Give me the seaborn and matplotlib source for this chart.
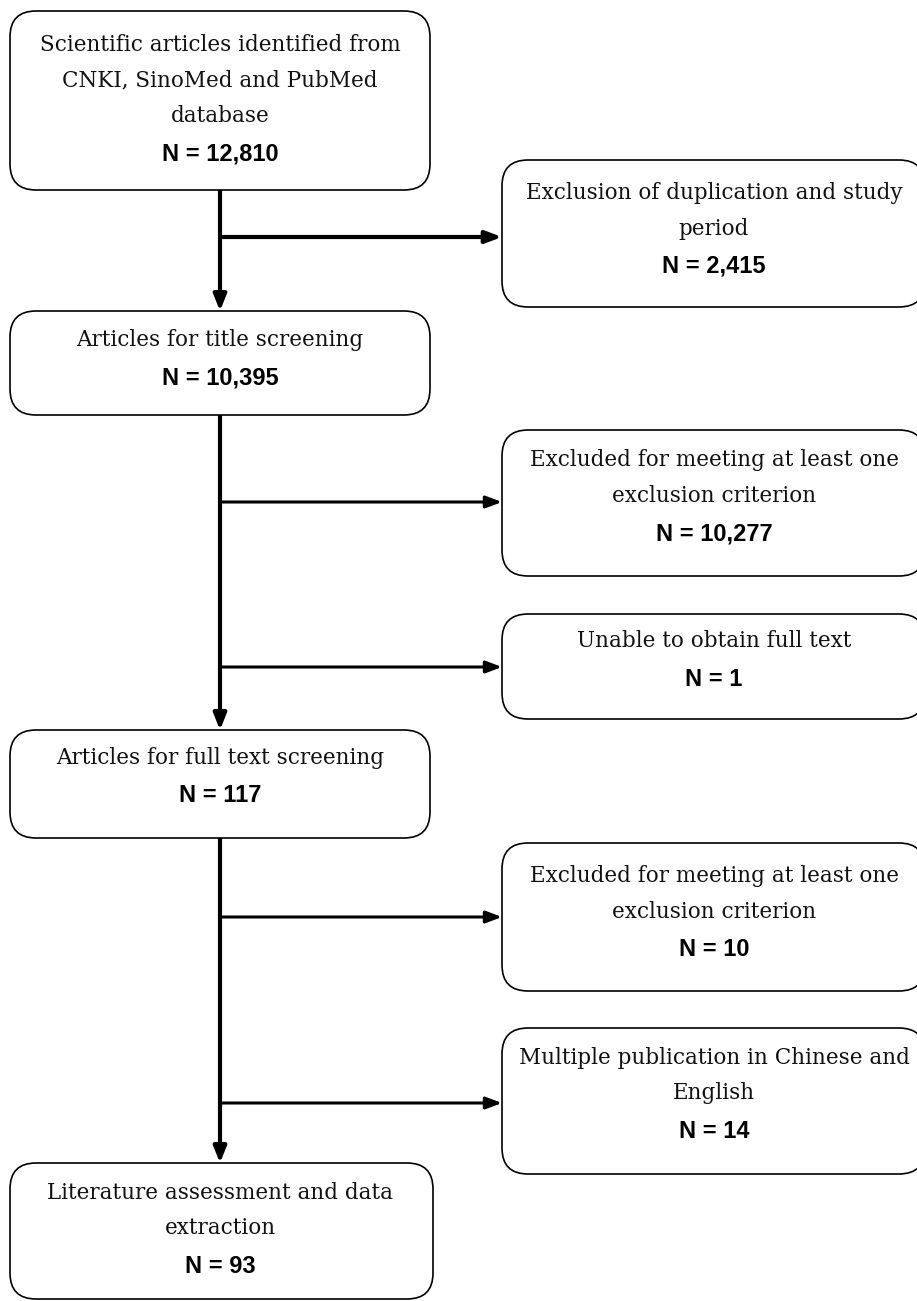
import matplotlib
matplotlib.use("Agg")
import matplotlib.pyplot as plt
from matplotlib.patches import FancyBboxPatch
import seaborn as sns

sns.set_theme(style="white")

# ---- data ----
main_labels = [
    ["Scientific articles identified from", "CNKI, SinoMed and PubMed", "database"],
    ["Articles for title screening"],
    ["Articles for full text screening"],
    ["Literature assessment and data", "extraction"],
]
main_counts = ["12,810", "10,395", "117", "93"]

side_labels = [
    ["Exclusion of duplication and study", "period"],
    ["Excluded for meeting at least one", "exclusion criterion"],
    ["Unable to obtain full text"],
    ["Excluded for meeting at least one", "exclusion criterion"],
    ["Multiple publication in Chinese and", "English"],
]
side_counts = ["2,415", "10,277", "1", "10", "14"]

# ---- layout (pixel coordinates) ----
W, H = 917, 1301
main_boxes = [(10, 11, 430, 190), (10, 311, 430, 415), (10, 730, 430, 838), (10, 1163, 433, 1299)]
side_boxes = [(502, 160, 925, 307), (502, 430, 925, 576), (502, 614, 925, 719),
              (502, 843, 925, 991), (502, 1028, 925, 1174)]
main_first_line = [45, 340, 758, 1193]
side_first_line = [193, 460, 641, 876, 1058]
side_arrow_y = [237, 502, 667, 917, 1103]
trunk_x = 220
line_gap = 35.5

fig = plt.figure(figsize=(W / 100, H / 100), dpi=100)
ax = fig.add_axes([0, 0, 1, 1])
ax.set_xlim(0, W)
ax.set_ylim(H, 0)
ax.axis("off")

serif = ["DejaVu Serif"]
sans = ["Liberation Sans", "DejaVu Sans"]


def draw_box(x0, y0, x1, y1, lines, count, first_y, cx):
    p = FancyBboxPatch((x0, y0), x1 - x0, y1 - y0,
                       boxstyle="round,pad=0,rounding_size=26",
                       fc="white", ec="black", lw=1.2, zorder=2)
    ax.add_patch(p)
    y = first_y
    for ln in lines:
        ax.text(cx, y, ln, ha="center", va="center", fontsize=15.5,
                family=serif, color="#111111", zorder=3)
        y += line_gap
    ax.text(cx, y + 2.5, "N = " + count, ha="center", va="center", fontsize=17,
            family=sans, weight="bold", color="black", zorder=3)


for (b, lines, cnt, fy) in zip(main_boxes, main_labels, main_counts, main_first_line):
    draw_box(*b, lines, cnt, fy, 220)
for (b, lines, cnt, fy) in zip(side_boxes, side_labels, side_counts, side_first_line):
    draw_box(*b, lines, cnt, fy, 714)

# vertical trunk arrows
for i in range(3):
    y_start = main_boxes[i][3]
    y_end = main_boxes[i + 1][1]
    ax.annotate("", xy=(trunk_x, y_end), xytext=(trunk_x, y_start),
                arrowprops=dict(arrowstyle="-|>,head_length=0.8,head_width=0.32",
                                lw=3.0, color="black", shrinkA=0, shrinkB=0),
                zorder=1)

# side arrows
for k, y in enumerate(side_arrow_y):
    lw = 3.0 if k == 0 else 2.2
    ax.annotate("", xy=(side_boxes[k][0], y), xytext=(trunk_x, y),
                arrowprops=dict(arrowstyle="-|>,head_length=0.8,head_width=0.3",
                                lw=lw, color="black", shrinkA=0, shrinkB=0),
                zorder=1)

fig.savefig("out.png", dpi=100, facecolor="white")
